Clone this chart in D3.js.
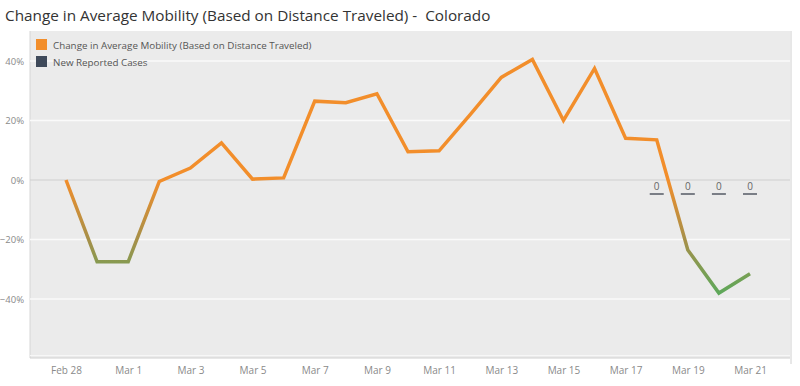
<!DOCTYPE html>
<html><head><meta charset="utf-8">
<script src="https://cdn.jsdelivr.net/npm/d3@7"></script>
<style>
body{margin:0;background:#fff;}
svg{display:block;font-family:"Open Sans",sans-serif;}
</style></head>
<body><svg id="c" width="800" height="386"></svg>
<script>
const dates = ["Feb 28","Feb 29","Mar 1","Mar 2","Mar 3","Mar 4","Mar 5","Mar 6","Mar 7","Mar 8","Mar 9","Mar 10","Mar 11","Mar 12","Mar 13","Mar 14","Mar 15","Mar 16","Mar 17","Mar 18","Mar 19","Mar 20","Mar 21"];
const mobility = [0.0,-0.275,-0.275,-0.005,0.04,0.125,0.003,0.007,0.265,0.26,0.29,0.095,0.098,0.22,0.345,0.405,0.20,0.375,0.14,0.135,-0.235,-0.38,-0.315];
const caseDates = ["Mar 18","Mar 19","Mar 20","Mar 21"];
const cases = [0,0,0,0];
const xTicks = ["Feb 28","Mar 1","Mar 3","Mar 5","Mar 7","Mar 9","Mar 11","Mar 13","Mar 15","Mar 17","Mar 19","Mar 21"];
const yTicks = [-0.4,-0.2,0,0.2,0.4];
const legendItems = ["Change in Average Mobility (Based on Distance Traveled)","New Reported Cases"];
const legendColors = ["#f28e2b","#3f4a5a"];

const svg = d3.select("#c");
const plot = {l:30, t:31, r:790, b:358};

svg.append("text").attr("x",5).attr("y",21).attr("font-size",15.3).attr("fill","#333")
  .style("white-space","pre")
  .text("Change in Average Mobility (Based on Distance Traveled) -  Colorado");

svg.append("rect").attr("x",plot.l).attr("y",plot.t).attr("width",plot.r-plot.l).attr("height",plot.b-plot.t).attr("fill","#ebebeb");
svg.append("line").attr("x1",plot.l).attr("x2",plot.l).attr("y1",plot.t).attr("y2",plot.b).attr("stroke","#d6d6d6");
svg.append("line").attr("x1",plot.r+1).attr("x2",plot.r+1).attr("y1",plot.t).attr("y2",plot.b+6).attr("stroke","#d0d0d0");
svg.append("line").attr("x1",plot.l).attr("x2",plot.r).attr("y1",plot.b).attr("y2",plot.b).attr("stroke","#d0d0d0");

const x = d3.scalePoint().domain(dates).range([66,750]);
const y = d3.scaleLinear().domain([-0.6,0.5]).range([358.5,31.25]);
const y2 = d3.scaleLinear().domain([0,10]).range([194,60]);

// gridlines
svg.append("g").selectAll("line").data(yTicks).join("line")
  .attr("x1",plot.l).attr("x2",plot.r).attr("y1",d=>y(d)).attr("y2",d=>y(d))
  .attr("stroke",d=>d===0?"#cfcfcf":"#fafafa").attr("stroke-width",d=>d===0?1:1.5);
svg.append("line").attr("x1",plot.l).attr("x2",plot.r).attr("y1",y(-0.6)-3).attr("y2",y(-0.6)-3).attr("stroke","#f7f7f7");

// y axis
const yAxis = d3.axisLeft(y).tickValues(yTicks).tickFormat(d3.format(".0%")).tickSize(0).tickPadding(6);
const gy = svg.append("g").attr("transform",`translate(${plot.l},0)`).call(yAxis);
gy.select(".domain").remove();
gy.selectAll("text").attr("font-size",9.5).attr("fill","#8a8a8a").attr("font-family","Open Sans");

// x axis
const xAxis = d3.axisBottom(x).tickValues(xTicks).tickSize(0).tickPadding(9);
const gx = svg.append("g").attr("transform",`translate(0,${plot.b})`).call(xAxis);
gx.select(".domain").remove();
gx.selectAll("text").attr("font-size",10).attr("fill","#8a8a8a").attr("font-family","Open Sans");

// gradient
const defs = svg.append("defs");
const grad = defs.append("linearGradient").attr("id","g1").attr("gradientUnits","userSpaceOnUse")
  .attr("x1",0).attr("x2",0).attr("y1",y(0)).attr("y2",y(-0.38));
grad.append("stop").attr("offset","0%").attr("stop-color","#f28e2b");
grad.append("stop").attr("offset","55%").attr("stop-color","#a3904a");
grad.append("stop").attr("offset","100%").attr("stop-color","#5ea85a");

const line = d3.line().x((d,i)=>x(dates[i])).y(d=>y(d));
svg.append("path").datum(mobility).attr("d",line).attr("fill","none")
  .attr("stroke","url(#g1)").attr("stroke-width",3.5).attr("stroke-linejoin","miter");

// cases (zero bars + labels)
const cg = svg.append("g");
cg.selectAll("rect").data(cases).join("rect")
  .attr("x",(d,i)=>x(caseDates[i])-7).attr("width",14)
  .attr("y",d=>y2(d)-0.75).attr("height",d=>Math.max(1.5,y2(0)-y2(d)))
  .attr("fill","#555b66");
cg.selectAll("text").data(cases).join("text")
  .attr("x",(d,i)=>x(caseDates[i])).attr("y",d=>y2(d)-4)
  .attr("text-anchor","middle").attr("font-size",10).attr("fill","#666").text(d=>d);

// legend
const lg = svg.append("g");
legendItems.forEach((t,i)=>{
  lg.append("rect").attr("x",36).attr("y",39+i*17).attr("width",11).attr("height",11).attr("fill",legendColors[i]);
  lg.append("text").attr("x",53).attr("y",48.5+i*17).attr("font-size",9.8).attr("fill","#555").text(t);
});
</script></body></html>
